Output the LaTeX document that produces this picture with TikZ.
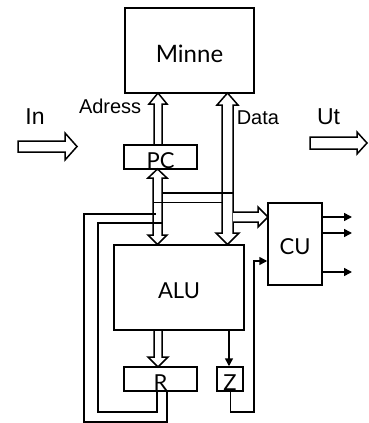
\documentclass[tikz,border=0pt]{standalone}
\usepackage{fontspec}
\setmainfont{Liberation Sans}
\newfontfamily\lato{Lato}
\usetikzlibrary{arrows.meta, calc}

\begin{document}
\begin{tikzpicture}[x=1pt, y=-1pt, line width=1.5pt,
  box/.style={draw, inner sep=0pt},
  bus/.style={draw, fill=white, line join=miter},
  sig/.style={-{Triangle[length=8pt, width=8pt]}},
  lbl/.style={font=\lato\fontsize{22}{26}\selectfont, anchor=base, inner sep=0pt},
  txt/.style={font=\fontsize{20}{24}\selectfont, inner sep=0pt}]

\useasboundingbox (0,0) rectangle (369,423);

% Buses (hollow arrows)
% Adress: PC -> Minne
\draw[bus] (154,145) -- (154,104) -- (149,104) -- (158,93) -- (167,104) -- (162,104) -- (162,145);
% PC <-> ALU
\draw[bus] (153,178) -- (148,178) -- (157.5,169) -- (167,178) -- (162,178) -- (162,235)
  -- (167,235) -- (157.5,244.5) -- (148,235) -- (153,235) -- cycle;
% Data: Minne <-> ALU
\draw[bus] (222,105) -- (217,105) -- (227.5,93) -- (238,105) -- (233,105) -- (233,233)
  -- (239,233) -- (227.5,244.5) -- (216,233) -- (222,233) -- cycle;
% ALU -> R
\draw[bus] (154,330) -- (154,357) -- (148,357) -- (158,367) -- (168,357) -- (162,357) -- (162,330);
% Data -> CU
\draw[bus] (233,212) -- (258,212) -- (258,207) -- (268,217) -- (258,227) -- (258,222) -- (233,222);
% In / Ut
\draw[bus] (18,141) -- (65,141) -- (65,133) -- (77,146.5) -- (65,160) -- (65,152) -- (18,152) -- cycle;
\draw[bus] (310,137) -- (357,137) -- (357,132) -- (367,143) -- (357,154) -- (357,149) -- (310,149) -- cycle;

% Cross link between the two buses
\draw (162,193) -- (233,193);
\draw (153,202.5) -- (223,202.5);

% Blocks
\node[box, minimum width=129pt, minimum height=85pt] (minne) at (189.5,50.5) {};
\node[box, minimum width=73pt, minimum height=24pt] (pc) at (160.5,157) {};
\node[box, minimum width=130pt, minimum height=85pt] (alu) at (179,287.5) {};
\node[box, minimum width=54pt, minimum height=82pt] (cu) at (295,244) {};
\node[box, minimum width=73pt, minimum height=24pt] (r) at (160.5,379) {};
\node[box, minimum width=26pt, minimum height=24pt] (z) at (230,379) {};

\node[lbl, font=\lato\fontsize{24}{28}\selectfont] (minnetxt) at (189.5,62) {Minne};
\node[lbl] (pctxt) at (160.5,168) {PC};
\node[lbl] (alutxt) at (179,298) {ALU};
\node[lbl] (cutxt) at (295,254) {CU};
\node[lbl] (rtxt) at (160.5,390) {R};
\node[lbl] (ztxt) at (230,390) {Z};

% Labels
\node[txt, anchor=base east] (adress) at (142,113) {Adress};
\node[txt, anchor=base west] (data) at (236,124) {Data};
\node[txt, anchor=base, font=\fontsize{23}{27}\selectfont] (in) at (35,124) {In};
\node[txt, anchor=base, font=\fontsize{23}{27}\selectfont] (ut) at (328.5,124) {Ut};

% Feedback from R
\draw (167,0 |- r.south) -- (167,422) -- (84,422) -- (84,214) -- (156,214);
\draw (157,0 |- r.south) -- (157,412) -- (98,412) -- (98,223) -- (162,223);

% Z -> CU
\draw[sig] (230.5,0 |- z.south) -- (230.5,412) -- (254,412) -- (254,261) -- (cu.west |- 0,261);

% ALU -> Z
\draw[sig] (229,0 |- alu.south) -- (229,0 |- z.north);

% CU outputs
\foreach \y in {217, 233, 272} {
  \draw[sig] (cu.east |- 0,\y) -- (352,\y);
}

\end{tikzpicture}
\end{document}
